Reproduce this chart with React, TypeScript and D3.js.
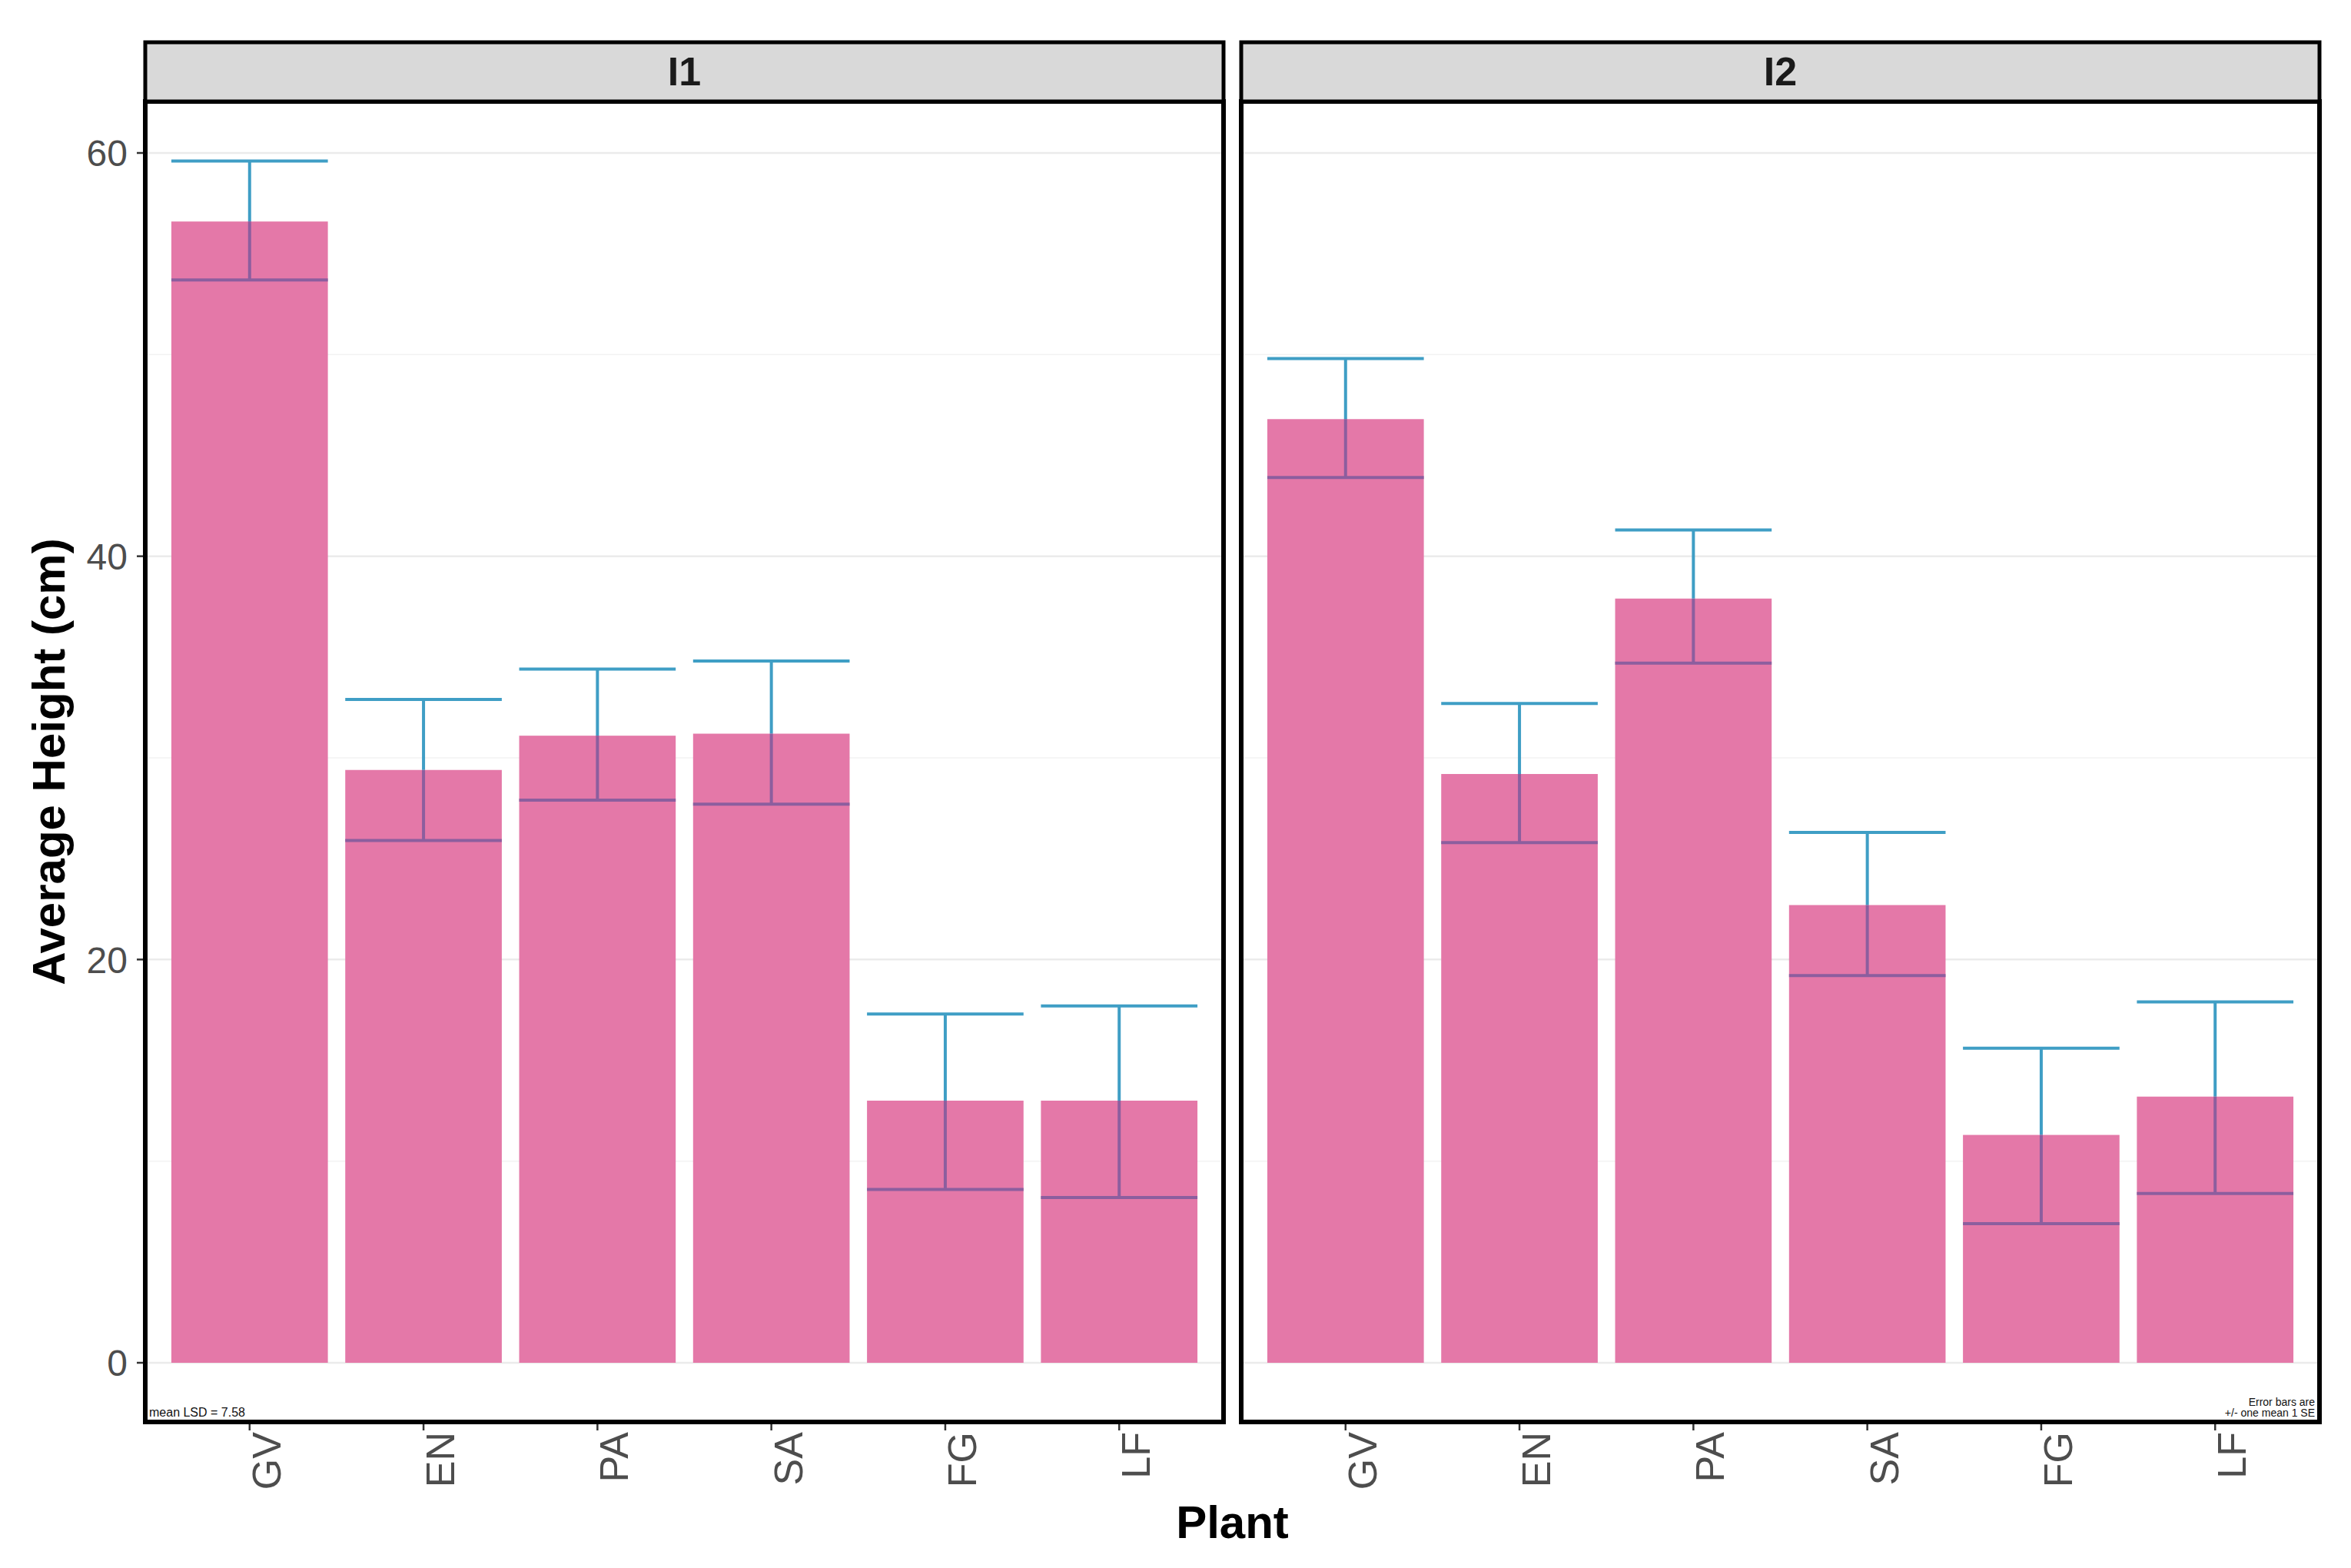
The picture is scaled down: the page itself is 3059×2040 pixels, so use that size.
import React from "react";
import * as d3 from "d3";

// categories and facets
const plants = ["GV", "EN", "PA", "SA", "FG", "LF"];
const facets = ["I1", "I2"];

// values (cm)
const meanI1 = [56.6, 29.4, 31.1, 31.2, 13.0, 13.0];
const lowerI1 = [53.7, 25.9, 27.9, 27.7, 8.6, 8.2];
const upperI1 = [59.6, 32.9, 34.4, 34.8, 17.3, 17.7];

const meanI2 = [46.8, 29.2, 37.9, 22.7, 11.3, 13.2];
const lowerI2 = [43.9, 25.8, 34.7, 19.2, 6.9, 8.4];
const upperI2 = [49.8, 32.7, 41.3, 26.3, 15.6, 17.9];

const yMajor = [0, 20, 40, 60];
const yMinor = [10, 30, 50];

const seriesByFacet = [
  { mean: meanI1, lower: lowerI1, upper: upperI1 },
  { mean: meanI2, lower: lowerI2, upper: upperI2 },
];

const W = 3059;
const H = 2040;
const FONT = "'Liberation Sans', Arial, sans-serif";
const BAR = "#E478A8";
const ERR_OUT = "#3F9EC5";
const ERR_IN = "#8C5E9E";

const App = () => {
  const panelLeft = [189, 1615];
  const panelW = 1403;
  const panelTop = 132;
  const panelBottom = 1850;
  const stripTop = 55;

  const y = d3.scaleLinear().domain([0, 60]).range([1773, 199]);

  return (
    <svg
      width={W}
      height={H}
      style={{ position: "absolute", left: 0, top: 0, background: "#fff" }}
      fontFamily={FONT}
    >
      <rect x={0} y={0} width={W} height={H} fill="#fff" />
      {facets.map((facet, fi) => {
        const x0 = panelLeft[fi];
        const x = d3
          .scaleBand()
          .domain(plants)
          .range([x0, x0 + panelW])
          .paddingInner(0.1)
          .paddingOuter(0.15);
        const data = seriesByFacet[fi];
        const bw = x.bandwidth();
        return (
          <g key={facet}>
            {/* grid */}
            {yMinor.map((v) => (
              <line key={"mn" + v} x1={x0} x2={x0 + panelW} y1={y(v)} y2={y(v)} stroke="#F3F3F3" strokeWidth={1.5} />
            ))}
            {yMajor.map((v) => (
              <line key={"mj" + v} x1={x0} x2={x0 + panelW} y1={y(v)} y2={y(v)} stroke="#EBEBEB" strokeWidth={2.5} />
            ))}
            {/* bars */}
            {plants.map((p, i) => (
              <rect key={p} x={x(p)} y={y(data.mean[i])} width={bw} height={y(0) - y(data.mean[i])} fill={BAR} />
            ))}
            {/* error bars: part above the bar top, part inside the bar */}
            {plants.map((p, i) => {
              const cx = (x(p) as number) + bw / 2;
              return (
                <g key={"e" + p} strokeWidth={4}>
                  <line x1={cx} x2={cx} y1={y(data.upper[i])} y2={y(data.mean[i])} stroke={ERR_OUT} />
                  <line x1={x(p)} x2={(x(p) as number) + bw} y1={y(data.upper[i])} y2={y(data.upper[i])} stroke={ERR_OUT} />
                  <line x1={cx} x2={cx} y1={y(data.mean[i])} y2={y(data.lower[i])} stroke={ERR_IN} />
                  <line x1={x(p)} x2={(x(p) as number) + bw} y1={y(data.lower[i])} y2={y(data.lower[i])} stroke={ERR_IN} />
                </g>
              );
            })}
            {/* panel border */}
            <rect x={x0} y={panelTop} width={panelW} height={panelBottom - panelTop} fill="none" stroke="#000" strokeWidth={6} />
            {/* strip */}
            <rect x={x0} y={stripTop} width={panelW} height={panelTop - stripTop} fill="#D9D9D9" stroke="#000" strokeWidth={5} />
            <text x={x0 + panelW / 2} y={111} textAnchor="middle" fontWeight="bold" fontSize={52} fill="#1a1a1a">
              {facet}
            </text>
            {/* x ticks and labels */}
            {plants.map((p) => {
              const cx = (x(p) as number) + bw / 2;
              return (
                <g key={"t" + p}>
                  <line x1={cx} x2={cx} y1={panelBottom + 3} y2={panelBottom + 11} stroke="#333" strokeWidth={2.5} />
                  <text
                    transform={`translate(${cx + 40},${1863}) rotate(-90)`}
                    textAnchor="end"
                    fontSize={52}
                    fill="#4D4D4D"
                  >
                    {p}
                  </text>
                </g>
              );
            })}
          </g>
        );
      })}

      {/* y axis */}
      {yMajor.map((v) => (
        <g key={"y" + v}>
          <line x1={178} x2={186} y1={y(v)} y2={y(v)} stroke="#333" strokeWidth={2.5} />
          <text x={166} y={y(v)} dy="0.36em" textAnchor="end" fontSize={48} fill="#4D4D4D">
            {v}
          </text>
        </g>
      ))}

      {/* axis titles */}
      <text transform={`translate(84,${(panelTop + panelBottom) / 2}) rotate(-90)`} textAnchor="middle" fontWeight="bold" fontSize={60} fill="#000">
        Average Height (cm)
      </text>
      <text x={(panelLeft[0] + panelLeft[1] + panelW) / 2} y={2001} textAnchor="middle" fontWeight="bold" fontSize={60} fill="#000">
        Plant
      </text>

      {/* small notes */}
      <text x={194} y={1843} fontSize={16} fill="#111">
        mean LSD = 7.58
      </text>
      <text x={3012} y={1829} fontSize={14} textAnchor="end" fill="#111">
        Error bars are
      </text>
      <text x={3012} y={1843} fontSize={14} textAnchor="end" fill="#111">
        +/- one mean 1 SE
      </text>
    </svg>
  );
};

export default App;
